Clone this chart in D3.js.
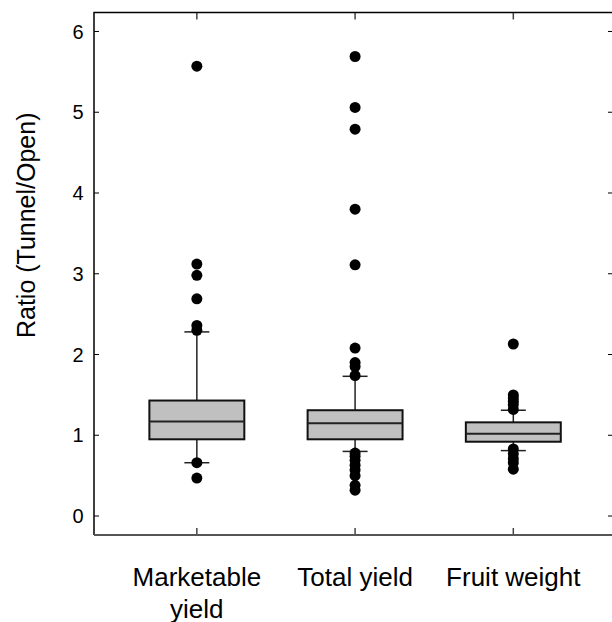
<!DOCTYPE html>
<html>
<head>
<meta charset="utf-8">
<script src="https://cdn.jsdelivr.net/npm/d3@7"></script>
<style>
	body { margin: 0; background: #fff; }
	svg { display: block; font-family: "Liberation Sans", Arial, sans-serif; }
</style>
</head>
<body>
<svg width="612" height="622"></svg>
<script>
const categories = ["Marketable yield", "Total yield", "Fruit weight"];
const q1 = [0.95, 0.95, 0.92];
const medians = [1.17, 1.15, 1.02];
const q3 = [1.43, 1.31, 1.16];
const whiskerLow = [0.66, 0.80, 0.81];
const whiskerHigh = [2.28, 1.73, 1.31];
const outliers = [
	[5.57, 3.12, 2.98, 2.69, 2.36, 2.30, 0.66, 0.47],
	[5.69, 5.06, 4.79, 3.80, 3.11, 2.08, 1.90, 1.85, 1.74, 0.78, 0.74, 0.69, 0.63, 0.57, 0.50, 0.38, 0.32],
	[2.13, 1.50, 1.46, 1.42, 1.38, 1.32, 0.83, 0.77, 0.71, 0.66, 0.58]
];
const yTicks = [0, 1, 2, 3, 4, 5, 6];

const svg = d3.select("svg");

const x = d3.scaleLinear().domain([0.35, 3.63]).range([94, 613]);
const y = d3.scaleLinear().domain([-0.235, 6.235]).range([535, 12.5]);

const boxHalf = (x(1.6) - x(1)) / 2;
const capHalf = 12.5;

const data = categories.map((c, i) => ({
	pos: i + 1,
	q1: q1[i], med: medians[i], q3: q3[i],
	lo: whiskerLow[i], hi: whiskerHigh[i],
	out: outliers[i]
}));

// ticks inside the frame
const axes = svg.append("g").attr("stroke", "#000");

axes.selectAll(".tl")
	.data(yTicks)
	.join("line")
	.attr("x1", x(0.35)).attr("x2", x(0.35) + 5)
	.attr("y1", d => y(d)).attr("y2", d => y(d))
	.attr("stroke-width", 1);

axes.selectAll(".tr")
	.data(yTicks)
	.join("line")
	.attr("x1", x(3.63) - 5).attr("x2", x(3.63))
	.attr("y1", d => y(d)).attr("y2", d => y(d))
	.attr("stroke-width", 1);

axes.selectAll(".tt")
	.data(data)
	.join("line")
	.attr("x1", d => x(d.pos)).attr("x2", d => x(d.pos))
	.attr("y1", y(6.235)).attr("y2", y(6.235) + 7)
	.attr("stroke", "#444")
	.attr("stroke-width", 1.5);

axes.selectAll(".tb")
	.data(data)
	.join("line")
	.attr("x1", d => x(d.pos)).attr("x2", d => x(d.pos))
	.attr("y1", y(-0.235)).attr("y2", y(-0.235) - 7)
	.attr("stroke", "#444")
	.attr("stroke-width", 1.5);

// frame
svg.append("path")
	.attr("d", `M${x(3.63)},${y(6.235)}H${x(0.35)}V${y(-0.235)}`)
	.attr("fill", "none")
	.attr("stroke", "#000")
	.attr("stroke-width", 1.5);

svg.append("line")
	.attr("x1", x(0.35)).attr("x2", x(3.63))
	.attr("y1", y(-0.235)).attr("y2", y(-0.235))
	.attr("stroke", "#555")
	.attr("stroke-width", 2);

// y tick labels
svg.append("g")
	.selectAll("text")
	.data(yTicks)
	.join("text")
	.attr("x", 83.5)
	.attr("y", d => y(d))
	.attr("dy", "0.36em")
	.attr("text-anchor", "end")
	.attr("font-size", 20)
	.text(d => d);

// y title
svg.append("text")
	.attr("transform", `translate(35,${y(3.6)}) rotate(-90)`)
	.attr("text-anchor", "middle")
	.attr("font-size", 25)
	.text("Ratio (Tunnel/Open)");

// category labels
const catLabels = [["Marketable", "yield"], ["Total yield"], ["Fruit weight"]];
svg.append("g")
	.selectAll("text")
	.data(data)
	.join("text")
	.attr("x", d => x(d.pos))
	.attr("y", 586)
	.attr("text-anchor", "middle")
	.attr("font-size", 26)
	.each(function(d, i) {
		d3.select(this).selectAll("tspan")
			.data(catLabels[i])
			.join("tspan")
			.attr("x", x(d.pos))
			.attr("dy", (t, j) => j === 0 ? 0 : 31.5)
			.text(t => t);
	});

// boxes
const box = svg.append("g")
	.selectAll("g")
	.data(data)
	.join("g");

box.append("line")
	.attr("x1", d => x(d.pos)).attr("x2", d => x(d.pos))
	.attr("y1", d => y(d.hi)).attr("y2", d => y(d.lo))
	.attr("stroke", "#222")
	.attr("stroke-width", 1.5);

box.append("line")
	.attr("x1", d => x(d.pos) - capHalf).attr("x2", d => x(d.pos) + capHalf)
	.attr("y1", d => y(d.hi)).attr("y2", d => y(d.hi))
	.attr("stroke", "#222")
	.attr("stroke-width", 1.5);

box.append("line")
	.attr("x1", d => x(d.pos) - capHalf).attr("x2", d => x(d.pos) + capHalf)
	.attr("y1", d => y(d.lo)).attr("y2", d => y(d.lo))
	.attr("stroke", "#222")
	.attr("stroke-width", 1.5);

box.append("rect")
	.attr("x", d => x(d.pos) - boxHalf)
	.attr("width", boxHalf * 2)
	.attr("y", d => y(d.q3))
	.attr("height", d => y(d.q1) - y(d.q3))
	.attr("fill", "#c0c0c0")
	.attr("stroke", "#111")
	.attr("stroke-width", 2);

box.append("line")
	.attr("x1", d => x(d.pos) - boxHalf).attr("x2", d => x(d.pos) + boxHalf)
	.attr("y1", d => y(d.med)).attr("y2", d => y(d.med))
	.attr("stroke", "#222")
	.attr("stroke-width", 2);

box.selectAll("circle")
	.data(d => d.out.map(v => ({ pos: d.pos, v })))
	.join("circle")
	.attr("cx", d => x(d.pos))
	.attr("cy", d => y(d.v))
	.attr("r", 5.5)
	.attr("fill", "#000");
</script>
</body>
</html>
